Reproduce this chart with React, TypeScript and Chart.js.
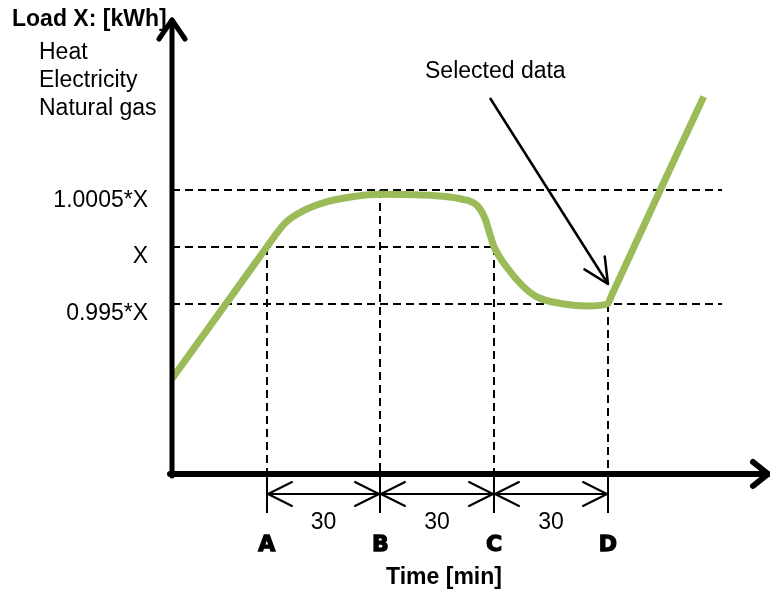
import React, { useEffect, useRef } from "react";
import { Chart, registerables } from "chart.js";

Chart.register(...registerables);

// ---- data (time in minutes, load in schematic level units) ----
const timeMin = [0, 22, 25, 30, 35, 41, 48, 55, 68, 76, 80.5, 82.6, 84, 85, 88.5, 92, 96, 103, 110, 115, 115.8, 140.3];
const load = [1.68, 3.72, 4.0, 4.43, 4.65, 4.8, 4.89, 4.93, 4.91, 4.85, 4.73, 4.5, 4.2, 4.0, 3.63, 3.35, 3.13, 3.0, 2.96, 3.0, 3.12, 6.65];

const levelValues = [3, 4, 5];
const levelLabels = ["0.995*X", "X", "1.0005*X"];

const milestoneTimes = [25, 55, 85, 115];
const milestoneLabels = ["A", "B", "C", "D"];
const milestoneLevels = [4, 5, 4, 3];
const intervalLabels = ["30", "30", "30"];

const yAxisTitle = "Load X: [kWh]";
const legendItems = ["Heat", "Electricity", "Natural gas"];
const xAxisTitle = "Time [min]";
const calloutText = "Selected data";

const FONT = "'Liberation Sans', Arial, Helvetica, sans-serif";
const GREEN = "#9bbb59";

function seg(ctx: CanvasRenderingContext2D, x1: number, y1: number, x2: number, y2: number) {
  ctx.beginPath();
  ctx.moveTo(x1, y1);
  ctx.lineTo(x2, y2);
  ctx.stroke();
}

function arrowHead(ctx: CanvasRenderingContext2D, tx: number, ty: number, fx: number, fy: number, len: number, half: number) {
  const dx = tx - fx, dy = ty - fy;
  const d = Math.hypot(dx, dy) || 1;
  const ux = dx / d, uy = dy / d;
  const bx = tx - ux * len, by = ty - uy * len;
  ctx.beginPath();
  ctx.moveTo(bx - uy * half, by + ux * half);
  ctx.lineTo(tx, ty);
  ctx.lineTo(bx + uy * half, by - ux * half);
  ctx.stroke();
}

const schematicPlugin = {
  id: "schematic",
  beforeDatasetsDraw(chart: any) {
    const { ctx } = chart;
    const xs = chart.scales.x, ys = chart.scales.y;
    const X = (v: number) => Math.round(xs.getPixelForValue(v));
    const Y = (v: number) => Math.round(ys.getPixelForValue(v));
    const guideEnd = 145;
    ctx.save();
    ctx.strokeStyle = "#000";
    ctx.lineWidth = 2;
    ctx.setLineDash([8, 5]);
    levelValues.forEach((lv) => {
      const end = lv === 4 ? milestoneTimes[2] : guideEnd;
      seg(ctx, X(0), Y(lv), X(end), Y(lv));
    });
    milestoneTimes.forEach((t, i) => {
      seg(ctx, X(t), Y(milestoneLevels[i]), X(t), Y(0));
    });
    ctx.restore();
  },
  afterDatasetsDraw(chart: any) {
    const { ctx } = chart;
    const xs = chart.scales.x, ys = chart.scales.y;
    const X = (v: number) => Math.round(xs.getPixelForValue(v));
    const Y = (v: number) => Math.round(ys.getPixelForValue(v));
    ctx.save();
    ctx.strokeStyle = "#000";
    ctx.fillStyle = "#000";
    ctx.setLineDash([]);
    ctx.lineCap = "round";
    ctx.lineJoin = "round";

    // axes
    ctx.lineWidth = 5;
    seg(ctx, X(0), Y(0) + 2, X(0), Y(8));
    arrowHead(ctx, X(0), Y(8), X(0), Y(0), 19, 13);
    ctx.lineWidth = 6;
    seg(ctx, X(0) - 2, Y(0), X(157.2), Y(0));
    arrowHead(ctx, X(157.2), Y(0), X(0), Y(0), 15, 12);

    // milestone ticks below axis and interval double arrows
    ctx.lineWidth = 2;
    ctx.lineCap = "butt";
    milestoneTimes.forEach((t) => seg(ctx, X(t), Y(0), X(t), Y(-0.68)));
    const ay = Y(-0.35);
    ctx.font = `23px ${FONT}`;
    ctx.textAlign = "center";
    ctx.textBaseline = "middle";
    for (let i = 0; i < milestoneTimes.length - 1; i++) {
      const a = X(milestoneTimes[i]), b = X(milestoneTimes[i + 1]);
      ctx.lineCap = "butt";
      seg(ctx, a, ay, b, ay);
      ctx.lineCap = "round";
      arrowHead(ctx, a + 1, ay, b, ay, 24, 12);
      arrowHead(ctx, b - 1, ay, a, ay, 24, 12);
      ctx.fillText(intervalLabels[i], (a + b) / 2, Y(-0.86));
    }

    // callout arrow
    const sx = X(83.9), sy = Y(6.63), tx = X(115), ty = Y(3.35);
    ctx.lineWidth = 2.5;
    ctx.lineCap = "butt";
    seg(ctx, sx, sy, tx, ty);
    ctx.lineCap = "round";
    arrowHead(ctx, tx, ty, sx, sy, 25, 12);

    // texts
    ctx.textAlign = "left";
    ctx.textBaseline = "alphabetic";
    ctx.font = `23px ${FONT}`;
    ctx.fillText(calloutText, 425, 78);
    legendItems.forEach((s, i) => ctx.fillText(s, 39, 59 + i * 28));
    ctx.font = `bold 23px ${FONT}`;
    ctx.fillText(yAxisTitle, 12, 26);
    ctx.textAlign = "center";
    ctx.textBaseline = "middle";
    ctx.fillText(xAxisTitle, 444, 578);
    ctx.restore();
  },
};

export default function App() {
  const ref = useRef<HTMLCanvasElement | null>(null);
  useEffect(() => {
    if (!ref.current) return;
    const chart = new Chart(ref.current, {
      type: "line",
      data: {
        datasets: [
          {
            data: timeMin.map((t, i) => ({ x: t, y: load[i] })),
            borderColor: GREEN,
            borderWidth: 7,
            pointRadius: 0,
            cubicInterpolationMode: "monotone",
            borderCapStyle: "butt",
            borderJoinStyle: "round",
            fill: false,
          },
        ],
      },
      options: {
        animation: false,
        responsive: false,
        devicePixelRatio: 1,
        layout: { padding: { left: 0, top: 20, right: 3, bottom: 0 } },
        plugins: { legend: { display: false }, tooltip: { enabled: false } },
        scales: {
          x: {
            type: "linear",
            min: 0,
            max: 157,
            grid: { display: false, drawTicks: false },
            border: { display: false },
            afterBuildTicks: (scale: any) => {
              scale.ticks = milestoneTimes.map((v) => ({ value: v }));
            },
            afterFit: (scale: any) => {
              scale.height = 118;
              scale.paddingLeft = 0;
              scale.paddingRight = 0;
              scale.paddingTop = 0;
              scale.paddingBottom = 0;
            },
            ticks: {
              autoSkip: false,
              maxRotation: 0,
              padding: 58,
              color: "#000",
              textStrokeColor: "#000",
              textStrokeWidth: 1.3,
              font: { family: "'DejaVu Sans', sans-serif", weight: "bold", size: 22 },
              callback: (v: any) => milestoneLabels[milestoneTimes.indexOf(Number(v))] ?? "",
            },
          },
          y: {
            type: "linear",
            min: 0,
            max: 8,
            grid: { display: false, drawTicks: false },
            border: { display: false },
            afterBuildTicks: (scale: any) => {
              scale.ticks = levelValues.map((v) => ({ value: v }));
            },
            afterFit: (scale: any) => {
              scale.width = 172;
              scale.paddingLeft = 0;
              scale.paddingRight = 0;
              scale.paddingTop = 0;
              scale.paddingBottom = 0;
            },
            ticks: {
              autoSkip: false,
              padding: 24,
              labelOffset: 10,
              color: "#000",
              font: { family: FONT, size: 23 },
              callback: (v: any) => levelLabels[levelValues.indexOf(Number(v))] ?? "",
            },
          },
        },
      },
      plugins: [schematicPlugin],
    } as any);
    return () => chart.destroy();
  }, []);
  return (
    <div style={{ position: "absolute", left: 0, top: 0, width: 770, height: 592, background: "#fff" }}>
      <canvas ref={ref} width={770} height={592} style={{ display: "block" }} />
    </div>
  );
}
